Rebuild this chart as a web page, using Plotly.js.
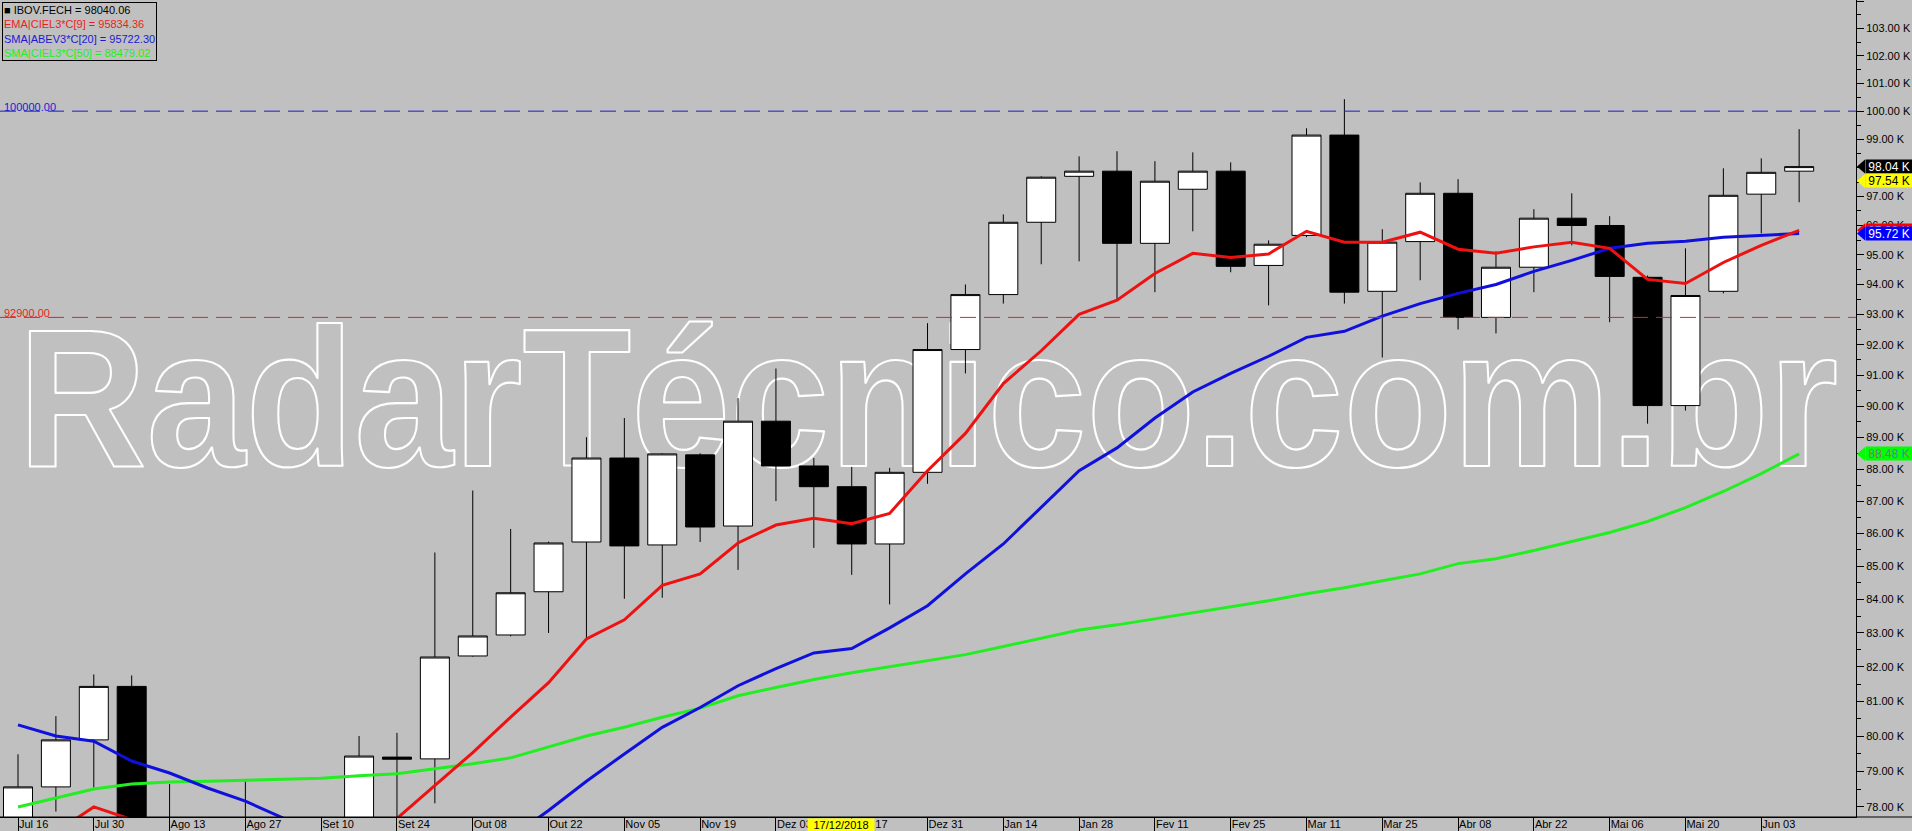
<!DOCTYPE html>
<html>
<head>
<meta charset="utf-8">
<script src="https://cdn.plot.ly/plotly-3.0.1.min.js"></script>
<style>
html,body{margin:0;padding:0;background:#c0c0c0;overflow:hidden}
#chart{width:1912px;height:831px}
</style>
</head>
<body>
<div id="chart"></div>
<script>
// ---- weekly categories (week start) ----
const weeks = ['Jul 16','Jul 23','Jul 30','Ago 06','Ago 13','Ago 20','Ago 27','Set 03','Set 10','Set 17',
  'Set 24','Out 01','Out 08','Out 15','Out 22','Out 29','Nov 05','Nov 12','Nov 19','Nov 26',
  'Dez 03','Dez 10','Dez 17','Dez 24','Dez 31','Jan 07','Jan 14','Jan 21','Jan 28','Fev 04',
  'Fev 11','Fev 18','Fev 25','Mar 04','Mar 11','Mar 18','Mar 25','Abr 01','Abr 08','Abr 15',
  'Abr 22','Abr 29','Mai 06','Mai 13','Mai 20','Mai 27','Jun 03','Jun 10'];

// ---- IBOV weekly OHLC ----
const openV = [76600,78560,79890,81430,77080,76820,76260,76680,76420,75430,
  79400,79350,82320,82940,84230,85740,88350,85650,88450,86230,
  89520,88100,87450,85680,87900,91840,93660,96110,97700,97880,
  95390,97250,97880,94640,95660,99150,93770,95450,97110,92900,
  94580,96250,96000,94240,90020,93770,97080,97880];
const highV = [79480,80570,81780,81750,78640,77500,78720,77300,77000,80000,
  80090,85420,87330,86140,85750,89010,89620,88500,88500,90260,
  91220,88350,88070,88040,92710,94000,96380,97700,98400,98580,
  98230,98540,98190,95490,99390,100430,95870,97490,97600,95120,
  96560,97110,96320,94300,95220,97980,98330,99360];
const lowV = [76400,77870,78540,76800,75900,75300,75700,74700,74300,75200,
  77300,78100,82300,82900,83000,82850,84020,84050,85740,84890,
  87000,85560,84740,83850,87540,91060,93360,94680,94780,93500,
  93740,95800,94410,93300,95600,93360,91580,94140,92500,92370,
  93740,95320,92740,89440,89860,93700,95730,96800];
const closeV = [78560,79890,81430,77080,76820,76260,76680,76420,75430,79430,
  79340,82290,82910,84200,85710,88350,85620,88480,86200,89520,
  88100,87450,85680,87900,91840,93660,96110,97670,97880,95390,
  97530,97880,94610,95360,99150,93740,95430,97110,92900,94580,
  96250,96000,94270,90020,93630,97040,97840,98040.06];

// ---- indicators ----
const ema9 = [77000,77300,78000,77650,77450,77200,77050,76900,76650,77200,
  77680,78590,79530,80540,81540,82820,83390,84420,84770,85710,
  86260,86470,86300,86620,87950,89130,90730,91800,93000,93470,
  94370,95050,94910,95030,95800,95430,95430,95770,95190,95050,
  95270,95430,95220,94170,94030,94740,95320,95834.36];
const sma20 = [80320,80000,79850,79290,78950,78530,78160,77690,77300,77000,
  76900,76900,77000,77150,77900,78720,79490,80250,80820,81450,
  81950,82410,82540,83150,83810,84770,85680,86800,87950,88670,
  89620,90460,91060,91620,92240,92440,92940,93360,93700,94000,
  94440,94810,95220,95390,95460,95600,95670,95722.30];
const sma50 = [78000,78250,78500,78640,78700,78720,78750,78770,78800,78870,
  78930,79070,79210,79380,79690,80000,80250,80540,80800,81160,
  81400,81630,81830,82010,82190,82360,82600,82850,83090,83240,
  83420,83600,83780,83960,84170,84350,84560,84770,85080,85230,
  85480,85750,86030,86370,86800,87300,87860,88479.02];

// ---- axis ticks ----
const xTickLabels = ['Jul 16','Jul 30','Ago 13','Ago 27','Set 10','Set 24','Out 08','Out 22','Nov 05','Nov 19',
  'Dez 03','Dez 17','Dez 31','Jan 14','Jan 28','Fev 11','Fev 25','Mar 11','Mar 25','Abr 08','Abr 22','Mai 06','Mai 20','Jun 03'];
const yTickVals = [78000,79000,80000,81000,82000,83000,84000,85000,86000,87000,88000,89000,90000,
  91000,92000,93000,94000,95000,96000,97000,98000,99000,100000,101000,102000,103000,104000];
const yTickText = ['78.00 K','79.00 K','80.00 K','81.00 K','82.00 K','83.00 K','84.00 K','85.00 K','86.00 K',
  '87.00 K','88.00 K','89.00 K','90.00 K','91.00 K','92.00 K','93.00 K','94.00 K','95.00 K','96.00 K',
  '97.00 K','98.00 K','99.00 K','100.00 K','101.00 K','102.00 K','103.00 K','104.00 K'];
const yMinorVals = [78500,79500,80500,81500,82500,83500,84500,85500,86500,87500,88500,89500,90500,
  91500,92500,93500,94500,95500,96500,97500,98500,99500,100500,101500,102500,103500];

// ---- reference lines & tags ----
const refLevels = [100000, 92900];
const refLabels = ['100000.00', '92900.00'];
const refColors = ['#1a1ad6', '#ee1c1c'];

const tagValues = [98040.06, 97540, 95834.36, 95722.30, 88479.02];
const tagTexts = ['98.04 K', '97.54 K', '95.83 K', '95.72 K', '88.48 K'];
const tagBg = ['#000000', '#ffff00', '#ff0000', '#0000ff', '#00ff00'];
const tagFg = ['#ffffff', '#000000', '#ffffff', '#ffffff', '#7d6f9a'];

const legendLines = ['IBOV.FECH = 98040.06', 'EMA|CIEL3*C[9] = 95834.36', 'SMA|ABEV3*C[20] = 95722.30', 'SMA|CIEL3*C[50] = 88479.02'];
const legendColors = ['#000000', '#ee1c1c', '#1a1ad6', '#22ee22'];
const crossDate = '17/12/2018';
const crossWeek = 'Dez 17';
const watermark = 'RadarTécnico.com.br';

const xIdx = weeks.map((w, i) => i);
const RED = '#ee1111', BLUE = '#1010dd', GREEN = '#22ee22';

const traces = [
  {type: 'scatter', mode: 'lines', x: xIdx, y: sma50, line: {color: GREEN, width: 3}, hoverinfo: 'skip', showlegend: false},
  {type: 'scatter', mode: 'lines', x: xIdx, y: sma20, line: {color: BLUE, width: 3}, hoverinfo: 'skip', showlegend: false},
  {type: 'candlestick', x: xIdx, open: openV, high: highV, low: lowV, close: closeV, showlegend: false,
    increasing: {fillcolor: '#ffffff', line: {color: '#000000', width: 1}},
    decreasing: {fillcolor: '#000000', line: {color: '#000000', width: 1}},
    whiskerwidth: 0},
  {type: 'scatter', mode: 'lines', x: xIdx, y: ema9, line: {color: RED, width: 3}, hoverinfo: 'skip', showlegend: false}
];

const FONT = 'Liberation Sans, Arial, sans-serif';
const shapes = [];
const annotations = [];

// watermark (drawn below data)
shapes.push({type: 'rect', xref: 'paper', yref: 'paper', x0: 0, x1: 1, y0: 0.418, y1: 0.648,
  line: {width: 0}, fillcolor: 'rgba(0,0,0,0)', layer: 'below',
  label: {text: '<b>' + watermark + '</b>', textposition: 'middle center',
    font: {family: FONT, size: 178, color: '#c0c0c0'}}});

// reference lines
refLevels.forEach((v, i) => {
  shapes.push({type: 'line', xref: 'paper', yref: 'y', x0: 0, x1: 1, y0: v, y1: v,
    line: {color: refColors[i], width: 1, dash: '16px,8px'}});
  annotations.push({xref: 'paper', yref: 'y', x: 0, y: Math.log10(v), xanchor: 'left', yanchor: 'bottom',
    xshift: 2, yshift: -4, text: refLabels[i], showarrow: false,
    font: {family: FONT, size: 11, color: refColors[i]}});
});

// bottom line extension to the paper's right edge
shapes.push({type: 'line', xref: 'paper', yref: 'paper', x0: 0, x1: 1912 / 1856, y0: 0, y1: 0,
  line: {color: '#000000', width: 1}});

// right-side value tags
tagValues.forEach((v, i) => {
  shapes.push({type: 'path', xref: 'paper', yref: 'y', xsizemode: 'pixel', ysizemode: 'pixel',
    xanchor: 1, yanchor: v, path: 'M1,0 L9,7 L9,-7 Z', fillcolor: tagBg[i], line: {width: 0}});
  annotations.push({xref: 'paper', yref: 'y', x: 1, y: Math.log10(v), xanchor: 'left', yanchor: 'middle',
    xshift: 9, text: tagTexts[i], showarrow: false, bgcolor: tagBg[i], width: 46, height: 13,
    borderpad: 0, align: 'center', font: {family: FONT, size: 12, color: tagFg[i]}});
});

// legend box
annotations.push({xref: 'paper', yref: 'paper', x: 0, y: 1, xanchor: 'left', yanchor: 'top', xshift: 2, yshift: -2,
  align: 'left', showarrow: false, bordercolor: '#000000', borderwidth: 1, borderpad: 1, bgcolor: '#c0c0c0',
  text: legendLines.map((t, i) => '<span style="color:' + legendColors[i] + '">' + (i === 0 ? '■ ' : '') + t + '</span>').join('<br>'),
  font: {family: FONT, size: 11}});

// crosshair date label
annotations.push({xref: 'x', yref: 'paper', x: weeks.indexOf(crossWeek), y: 0, xanchor: 'center', yanchor: 'top',
  xshift: -11, yshift: -1, text: crossDate, showarrow: false, bgcolor: '#ffff00', borderpad: 0, width: 66,
  font: {family: FONT, size: 11, color: '#000000'}});

const layout = {
  width: 1912, height: 831,
  margin: {l: 0, r: 56, t: 0, b: 14, pad: 0},
  paper_bgcolor: '#c0c0c0', plot_bgcolor: '#c0c0c0',
  showlegend: false, hovermode: false, dragmode: false,
  boxgap: 0.235, boxgroupgap: 0,
  xaxis: {type: 'linear', range: [-0.475, 48.5], showgrid: false, zeroline: false,
    showline: true, linecolor: '#000000', linewidth: 1,
    ticks: 'outside', ticklen: 14, tickwidth: 1, tickcolor: '#000000',
    tickmode: 'array', tickvals: xTickLabels.map(l => weeks.indexOf(l)), ticktext: xTickLabels,
    ticklabelposition: 'outside right', ticklabelstandoff: -3,
    tickfont: {family: FONT, size: 11, color: '#000000'},
    rangeslider: {visible: false}, fixedrange: true},
  yaxis: {type: 'log', side: 'right', range: [Math.log10(77720), Math.log10(104050)],
    showgrid: false, zeroline: false, showline: true, linecolor: '#000000', linewidth: 1,
    ticks: 'outside', ticklen: 7, tickwidth: 1, tickcolor: '#000000',
    tickmode: 'array', tickvals: yTickVals, ticktext: yTickText,
    minor: {tickmode: 'array', tickvals: yMinorVals, ticks: 'outside', ticklen: 4, tickwidth: 1, tickcolor: '#000000', showgrid: false},
    tickfont: {family: FONT, size: 11, color: '#000000'}, fixedrange: true},
  shapes: shapes,
  annotations: annotations
};

Plotly.newPlot('chart', traces, layout, {staticPlot: true, displayModeBar: false}).then(function () {
  document.querySelectorAll('#chart text').forEach(function (t) {
    if (t.textContent.indexOf('RadarT') >= 0) {
      t.style.fill = 'none';
      t.style.stroke = '#ffffff';
      t.style.strokeWidth = '2px';
      t.style.strokeLinejoin = 'round';
      t.style.transformBox = 'fill-box';
      t.style.transformOrigin = 'center';
      t.style.transform = 'scaleY(1.1)';
      t.querySelectorAll('tspan').forEach(function (s) { s.style.fill = 'none'; });
    }
  });
});
</script>
</body>
</html>
